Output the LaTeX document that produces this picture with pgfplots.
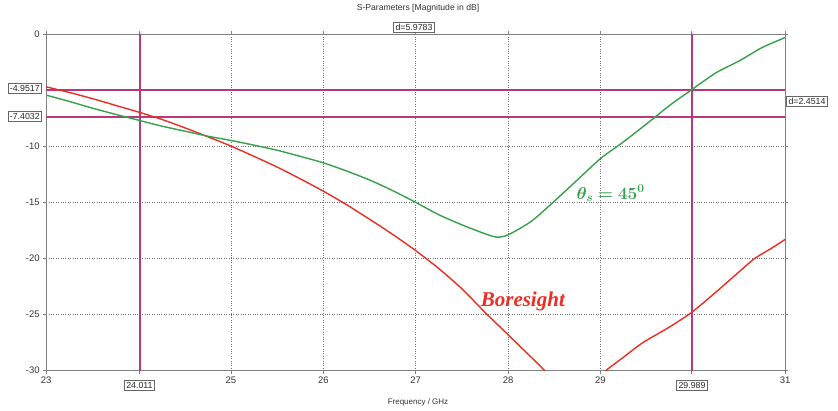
\documentclass[border=0pt]{standalone}
\usepackage{pgfplots}
\pgfplotsset{compat=1.18}
\usepackage{bm}
\usepackage{fontspec}
\setmainfont{Liberation Sans}
\newfontfamily\serifb{Liberation Serif}
\definecolor{cred}{RGB}{235,45,35}
\definecolor{cgreen}{RGB}{55,160,75}
\definecolor{cmark}{RGB}{185,55,125}
\definecolor{cgrid}{RGB}{110,110,110}
\definecolor{caxis}{RGB}{128,128,128}
\begin{document}
\begin{tikzpicture}[x=1pt,y=1pt]
\useasboundingbox (0,0) rectangle (838,411);
\begin{axis}[
  at={(50,36)}, anchor=south west,
  scale only axis, width=739pt, height=336.5pt,
  xmin=23, xmax=31, ymin=-30, ymax=0,
  xtick={23,25,26,27,28,29,31},
  extra x ticks={24.011,29.989},
  extra x tick labels={},
  extra x tick style={grid=none},
  ytick={-30,-25,-20,-15,-10,0},
  /pgf/number format/assume math mode=true,
  tick label style={font=\fontsize{9.5}{10}\selectfont, text=black!80},
  tick align=outside, major tick length=3pt,
  tick style={caxis, line width=0.8pt},
  axis line style={caxis, line width=1.2pt},
  grid=major,
  major grid style={cgrid, dotted, line width=0.8pt},
  clip=true,
]
% marker lines
\addplot[draw=cmark, solid, no marks, line width=2pt, forget plot] coordinates {(23,-4.9517) (31,-4.9517)};
\addplot[draw=cmark, solid, no marks, line width=2pt, forget plot] coordinates {(23,-7.4032) (31,-7.4032)};
\addplot[draw=cmark, solid, no marks, line width=2pt, forget plot] coordinates {(24.011,-30) (24.011,0)};
\addplot[draw=cmark, solid, no marks, line width=2pt, forget plot] coordinates {(29.989,-30) (29.989,0)};
% Boresight
\addplot[cred, line width=1.4pt, smooth, tension=0.4] coordinates {
(23.0,-4.7) (23.25,-5.2) (23.5,-5.75) (23.75,-6.35) (24.0,-6.95)
(24.25,-7.6) (24.5,-8.35) (24.75,-9.15) (25.0,-9.98) (25.25,-10.9)
(25.5,-11.85) (25.75,-12.9) (26.0,-14.0) (26.25,-15.2) (26.5,-16.5)
(26.75,-17.85) (27.0,-19.3) (27.25,-20.9) (27.5,-22.7) (27.75,-24.8)
(28.0,-26.8) (28.25,-28.8) (28.5,-30.8) (28.65,-31.7) (28.8,-32.1)
(28.95,-31.1) (29.06,-30.0) (29.25,-28.8) (29.46,-27.5) (29.75,-26.1)
(29.989,-24.8) (30.25,-23.0) (30.5,-21.2) (30.67,-20.0) (30.85,-19.1)
(31.0,-18.3)};
% theta_s = 45
\addplot[cgreen, line width=1.4pt, smooth, tension=0.4] coordinates {
(23.0,-5.44) (23.25,-6.0) (23.5,-6.6) (23.75,-7.15) (24.011,-7.7)
(24.25,-8.2) (24.5,-8.65) (24.75,-9.1) (25.0,-9.48) (25.25,-9.9)
(25.5,-10.35) (25.75,-10.9) (26.0,-11.47) (26.25,-12.2) (26.5,-13.0)
(26.75,-13.95) (27.0,-15.0) (27.25,-16.1) (27.5,-17.0) (27.75,-17.8)
(27.88,-18.1) (28.0,-17.9) (28.25,-16.7) (28.5,-14.9) (28.75,-13.0)
(29.0,-11.1) (29.25,-9.6) (29.5,-8.0) (29.75,-6.35) (29.989,-4.95)
(30.25,-3.45) (30.5,-2.4) (30.75,-1.2) (31.0,-0.3)};
\node[cgreen, font=\fontsize{17}{19}\selectfont] at (axis cs:29.11,-14.2) {$\bm{\theta_s} \bm{=} \bm{45^0}$};
\node[cred, font=\fontsize{21}{23}\selectfont\serifb\bfseries\itshape] at (axis cs:28.16,-23.8) {Boresight};
\end{axis}
% title and marker boxes
\node[font=\fontsize{8.6}{9}\selectfont, text=black!80] at (418,403) {S-Parameters [Magnitude in dB]};
\tikzset{mbox/.style={draw=black!60, fill=white, line width=0.6pt, inner sep=2pt, font=\fontsize{8.8}{9}\selectfont, text=black!85}}
\node[mbox, anchor=south] at (414,378) {d=5.9783};
\node[mbox] at (807,309.5) {d=2.4514};
\node[mbox, anchor=east] at (42,322.4) {-4.9517};
\node[mbox, anchor=east] at (42,294.9) {-7.4032};
\node[mbox] at (139.4,26) {24.011};
\node[mbox] at (692,26) {29.989};
\node[font=\fontsize{8}{9}\selectfont, text=black!80] at (418,9) {Frequency / GHz};
\end{tikzpicture}
\end{document}
